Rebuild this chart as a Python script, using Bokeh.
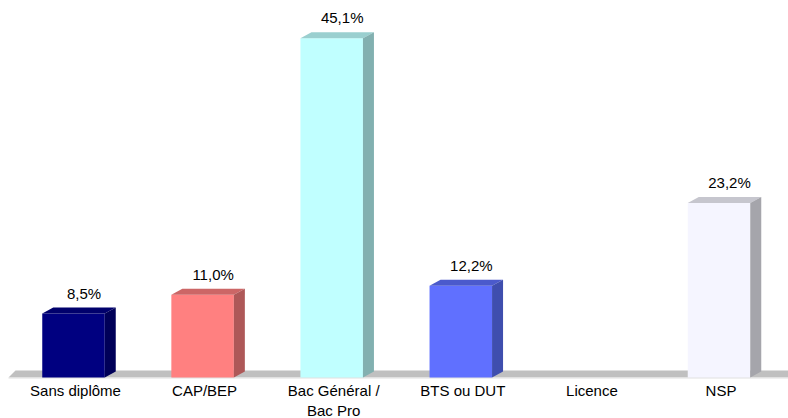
from bokeh.plotting import figure
from bokeh.models import Range1d, ColumnDataSource
from bokeh.core.properties import value
from bokeh.embed import file_html
from bokeh.resources import INLINE

categories = ["Sans diplôme", "CAP/BEP", "Bac Général /\nBac Pro", "BTS ou DUT", "Licence", "NSP"]
values = [8.5, 11.0, 45.1, 12.2, 0.0, 23.2]
front_colors = ["#000080", "#FF8080", "#C0FFFF", "#6070FF", "#FFFFFF", "#F5F5FF"]
top_colors = ["#00006C", "#CC6666", "#9ACFCF", "#4B5ACC", "#FFFFFF", "#C6C6CE"]
side_colors = ["#000058", "#AE5858", "#82B0B0", "#3F4EAE", "#FFFFFF", "#A5A5AB"]

W, H = 788, 418
PX_X = 129.1          # pixels per category step
X0 = 73.0             # pixel centre of first bar
PX_Y = 7.52           # pixels per percent
BASE = 377.0          # pixel row of 0 %

x_start = -X0 / PX_X
x_end = (W - X0) / PX_X
y_start = -(H - BASE) / PX_Y
y_end = BASE / PX_Y

BW = 62.5 / PX_X
DX = 11 / PX_X
DY = 6 / PX_Y

p = figure(width=W, height=H, output_backend="svg", toolbar_location=None,
           x_range=Range1d(x_start, x_end), y_range=Range1d(y_start, y_end),
           x_axis_type=None, y_axis_type=None, min_border=0,
           outline_line_color=None, background_fill_color="white",
           border_fill_color="white")
p.grid.visible = False

# floor
fdx = 7 / PX_X
fdy = 7 / PX_Y
fl = x_start + 8 / PX_X
p.patch([fl, fl + fdx, x_end, x_end], [0, fdy, fdy, 0], fill_color="#C0C0C0", line_color=None)
p.line([fl, x_end], [-0.6 / PX_Y, -0.6 / PX_Y], line_color="#E4E4E4", line_width=1)

xs = list(range(len(categories)))
idx = [i for i in xs if values[i] > 0]

front = ColumnDataSource(dict(
    left=[i - BW / 2 for i in idx], right=[i + BW / 2 for i in idx],
    top=[values[i] for i in idx], bottom=[0] * len(idx),
    color=[front_colors[i] for i in idx]))
p.quad(left="left", right="right", top="top", bottom="bottom", source=front,
       fill_color="color", line_color=None)

top_x, top_y, side_x, side_y = [], [], [], []
for i in idx:
    l, r, v = i - BW / 2, i + BW / 2, values[i]
    top_x.append([l, r, r + DX, l + DX])
    top_y.append([v, v, v + DY, v + DY])
    side_x.append([r, r + DX, r + DX, r])
    side_y.append([0, DY, v + DY, v])
p.patches(top_x, top_y, fill_color=[top_colors[i] for i in idx], line_color=None)
p.patches(side_x, side_y, fill_color=[side_colors[i] for i in idx], line_color=None)

labels = ColumnDataSource(dict(
    x=[i + 10.5 / PX_X for i in idx],
    y=[values[i] + DY + 6 / PX_Y for i in idx],
    t=[f"{values[i]:.1f}".replace(".", ",") + "%" for i in idx]))
p.text(x="x", y="y", text="t", source=labels, text_align="center",
       text_baseline="bottom", text_font=value("Liberation Sans"),
       text_font_size="15px", text_color="#000000")

cats = ColumnDataSource(dict(x=[i + 2 / PX_X for i in xs], y=[-4 / PX_Y] * len(xs), t=categories))
p.text(x="x", y="y", text="t", source=cats, text_align="center",
       text_baseline="top", text_font=value("Liberation Sans"),
       text_font_size="15px", text_color="#000000", text_line_height=1.2)

open("out.html", "w").write(file_html(p, INLINE))
